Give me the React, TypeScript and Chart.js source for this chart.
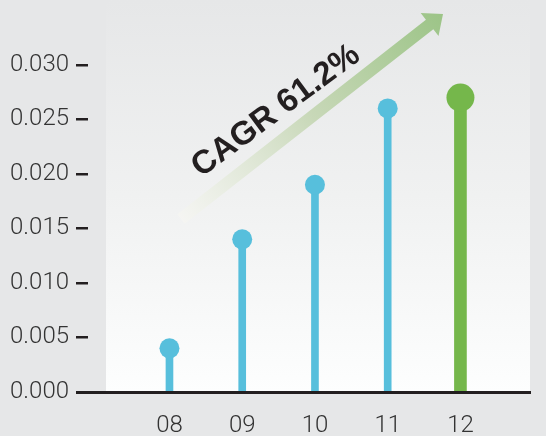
import { useEffect, useRef } from 'react';
import { Chart, registerables } from 'chart.js';

Chart.register(...registerables);

const categories = ['08', '09', '10', '11', '12'];
const values = [0.004, 0.014, 0.019, 0.026, 0.027];
const highlightIndex = 4;
const yTickValues = [0, 0.005, 0.01, 0.015, 0.02, 0.025, 0.03];
const cagrLabel = 'CAGR 61.2%';

const BLUE = '#57bfdc';
const GREEN = '#75b74b';
const INK = '#231f20';
const LABEL_FONT = { family: 'Roboto, "Liberation Sans", sans-serif', size: 24, weight: '300' as const, lineHeight: 1 };

export default function App() {
  const ref = useRef<HTMLCanvasElement>(null);

  useEffect(() => {
    if (!ref.current) return;

    const bgPlugin = {
      id: 'bgPanel',
      beforeDraw(chart: any) {
        const { ctx, chartArea } = chart;
        const { left, right, bottom } = chartArea;
        ctx.save();
        ctx.fillStyle = '#e6e7e8';
        ctx.fillRect(0, 0, chart.width, chart.height);
        const g = ctx.createLinearGradient(0, 0, 0, bottom);
        g.addColorStop(0, '#e6e7e8');
        g.addColorStop(0.5, '#f0f1f1');
        g.addColorStop(1, '#fdfefe');
        ctx.fillStyle = g;
        ctx.fillRect(left + 18, 0, right - left - 19, bottom);
        ctx.restore();
      },
    };

    const axisPlugin = {
      id: 'baseline',
      afterDatasetsDraw(chart: any) {
        const { ctx, chartArea } = chart;
        const y0 = chart.scales.y.getPixelForValue(0);
        ctx.save();
        ctx.strokeStyle = INK;
        ctx.lineWidth = 3;
        ctx.beginPath();
        ctx.moveTo(chartArea.left - 12, y0 + 0.5);
        ctx.lineTo(chartArea.right, y0 + 0.5);
        ctx.stroke();
        ctx.restore();
      },
    };

    const arrowPlugin = {
      id: 'cagrArrow',
      afterDraw(chart: any) {
        const { ctx } = chart;
        const tail = { x: 181, y: 219 };
        const tip = { x: 443, y: 14 };
        const dx = tip.x - tail.x;
        const dy = tip.y - tail.y;
        const len = Math.sqrt(dx * dx + dy * dy);
        const ang = Math.atan2(dy, dx);
        const headLen = 17;
        const headHalf = 14.5;
        const shaftHalf = 6;
        ctx.save();
        ctx.translate(tail.x, tail.y);
        ctx.rotate(ang);
        const g = ctx.createLinearGradient(0, 0, len, 0);
        g.addColorStop(0, 'rgba(246,246,242,0.7)');
        g.addColorStop(0.5, 'rgba(200,216,184,1)');
        g.addColorStop(1, '#9cc487');
        ctx.fillStyle = g;
        ctx.beginPath();
        ctx.moveTo(0, -shaftHalf);
        ctx.lineTo(len - headLen, -shaftHalf);
        ctx.lineTo(len - headLen, -headHalf);
        ctx.lineTo(len, 0);
        ctx.lineTo(len - headLen, headHalf);
        ctx.lineTo(len - headLen, shaftHalf);
        ctx.lineTo(0, shaftHalf);
        ctx.closePath();
        ctx.fill();
        ctx.restore();

        ctx.save();
        ctx.translate(276, 111);
        ctx.rotate((-36.5 * Math.PI) / 180);
        ctx.fillStyle = INK;
        ctx.font = 'bold 33px "Liberation Sans", Arial, sans-serif';
        ctx.textAlign = 'center';
        ctx.textBaseline = 'middle';
        ctx.fillText(cagrLabel, 0, 0);
        ctx.restore();
      },
    };

    const stemBlue = values.map((v, i) => ({ x: i, y: i === highlightIndex ? null : v }));
    const stemGreen = values.map((v, i) => ({ x: i, y: i === highlightIndex ? v : null }));
    const dots = values.map((v, i) => ({ x: i, y: v }));

    const chart = new Chart(ref.current, {
      type: 'bar',
      data: {
        datasets: [
          {
            type: 'line',
            data: dots as any,
            showLine: false,
            pointRadius: values.map((_, i) => (i === highlightIndex ? 14 : 10)),
            pointBackgroundColor: values.map((_, i) => (i === highlightIndex ? GREEN : BLUE)),
            pointBorderWidth: 0,
            pointHoverRadius: values.map((_, i) => (i === highlightIndex ? 14 : 10)),
            order: 0,
          } as any,
          {
            type: 'bar',
            data: stemBlue as any,
            backgroundColor: BLUE,
            barThickness: 7,
            grouped: false,
            skipNull: true,
            order: 1,
          } as any,
          {
            type: 'bar',
            data: stemGreen as any,
            backgroundColor: GREEN,
            barThickness: 12,
            grouped: false,
            skipNull: true,
            order: 1,
          } as any,
        ],
      },
      options: {
        responsive: false,
        animation: false,
        layout: { padding: { top: 2, right: 15, bottom: 0, left: 0 } },
        plugins: { legend: { display: false }, tooltip: { enabled: false } },
        scales: {
          x: {
            type: 'linear',
            offset: false,
            min: -1.12,
            max: 4.97,
            grid: { display: false, drawTicks: false, tickLength: 0 },
            border: { display: false },
            afterBuildTicks: (scale: any) => {
              scale.ticks = categories.map((_, i) => ({ value: i }));
            },
            afterFit: (scale: any) => {
              scale.height = 44;
            },
            ticks: {
              padding: 22,
              color: '#333333',
              font: LABEL_FONT,
              maxRotation: 0,
              autoSkip: false,
              callback: (v: any) => categories[Math.round(Number(v))] ?? '',
            },
          },
          y: {
            min: 0,
            max: 0.0342,
            afterBuildTicks: (scale: any) => {
              scale.ticks = yTickValues.map((v) => ({ value: v }));
            },
            afterFit: (scale: any) => {
              scale.width = 88;
            },
            grid: {
              drawOnChartArea: false,
              drawTicks: true,
              tickLength: 12,
              lineWidth: 2.5,
              color: INK,
            },
            border: { display: false },
            ticks: {
              padding: 7,
              color: '#333333',
              font: LABEL_FONT,
              callback: (v: any) => Number(v).toFixed(3),
            },
          },
        },
      },
      plugins: [bgPlugin, axisPlugin, arrowPlugin],
    });

    return () => chart.destroy();
  }, []);

  return (
    <div style={{ position: 'absolute', left: 0, top: 0, width: 546, height: 436 }}>
      <canvas ref={ref} width={546} height={436} style={{ display: 'block' }} />
    </div>
  );
}
